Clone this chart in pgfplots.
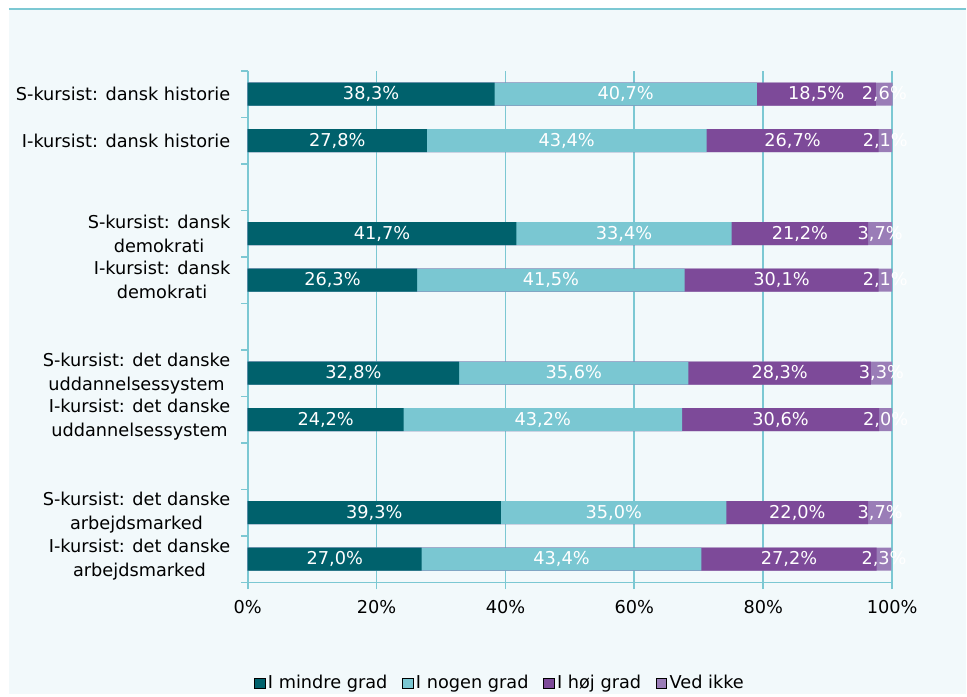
\documentclass[border=0pt]{standalone}
\usepackage{pgfplots}
\pgfplotsset{compat=1.18}
\usepackage{pgfplotstable}
\usepackage{fontspec}
\setmainfont{DejaVu Sans}
\usetikzlibrary{backgrounds}
\definecolor{cA}{HTML}{00616C}
\definecolor{cB}{HTML}{7AC7D2}
\definecolor{cC}{HTML}{7D4A99}
\definecolor{cD}{HTML}{9A7DB7}
\definecolor{gridc}{HTML}{7CC8D3}
\definecolor{bgc}{HTML}{F2F9FB}
\pgfplotstableread{
pos a b c d
10 38.3 40.7 18.5 2.6
9 27.8 43.4 26.7 2.1
7 41.7 33.4 21.2 3.7
6 26.3 41.5 30.1 2.1
4 32.8 35.6 28.3 3.3
3 24.2 43.2 30.6 2.0
1 39.3 35.0 22.0 3.7
0 27.0 43.4 27.2 2.3
}\data
\begin{document}
\fontsize{13.3pt}{18pt}\selectfont
\begin{tikzpicture}
\begin{axis}[name=ax, scale only axis, width=483.75pt, height=384pt,
  xmin=0, xmax=100, ymin=-0.5, ymax=10.5, clip=false,
  /pgf/number format/assume math mode=true,
  separate axis lines, axis x line*=bottom, axis y line*=left,
  axis line style={gridc, line width=1.3pt},
  tick style={gridc, line width=1.3pt},
  tick align=outside, major tick length=5pt,
  xtick={0,20,...,100}, xticklabel={\pgfmathprintnumber{\tick}\%},
  xticklabel style={yshift=-3.5pt},
  xmajorgrids, grid style={gridc, line width=1.3pt},
  ytick={-0.5,0.5,...,10.5}, yticklabels={},
  extra y ticks={10,9,7,6,4,3,1,0},
  extra y tick labels={{S-kursist: dansk historie},{I-kursist: dansk historie},{S-kursist: dansk\\demokrati},{I-kursist: dansk\\demokrati},{S-kursist: det danske\\uddannelsessystem},{I-kursist: det danske\\uddannelsessystem},{S-kursist: det danske\\arbejdsmarked},{I-kursist: det danske\\arbejdsmarked}},
  extra y tick style={major tick length=0pt, yticklabel style={align=center, xshift=-8.5pt}},
  legend columns=4,
  legend style={at={(0.392,-0.197)}, anchor=center, draw=none, fill=none,
    /tikz/every even column/.append style={column sep=9pt},
    nodes={inner sep=2pt}},
  legend image code/.code={\fill[#1] (0pt,-4pt) rectangle (8pt,4pt);},
  lbl/.style={draw=none, forget plot, point meta=explicit,
    nodes near coords={\pgfmathprintnumber[fixed,fixed zerofill,precision=1,use comma]{\pgfplotspointmeta}\%},
    every node near coord/.append style={anchor=center, text=white}},
  bars/.style={xbar, bar width=17.25pt, bar shift=0pt, draw=none, forget plot},
]
\addlegendimage{fill=cA}\addlegendentry{I mindre grad}
\addlegendimage{fill=cB}\addlegendentry{I nogen grad}
\addlegendimage{fill=cC}\addlegendentry{I høj grad}
\addlegendimage{fill=cD}\addlegendentry{Ved ikke}
\addplot[bars, fill=cD] table[x expr=\thisrow{a}+\thisrow{b}+\thisrow{c}+\thisrow{d}, y=pos]{\data};
\addplot[bars, fill=cC] table[x expr=\thisrow{a}+\thisrow{b}+\thisrow{c}, y=pos]{\data};
\addplot[bars, fill=cB] table[x expr=\thisrow{a}+\thisrow{b}, y=pos]{\data};
\addplot[bars, fill=cA] table[x=a, y=pos]{\data};
\addplot[lbl] table[x expr=\thisrow{a}/2, y=pos, meta=a]{\data};
\addplot[lbl] table[x expr=\thisrow{a}+\thisrow{b}/2, y=pos, meta=b]{\data};
\addplot[lbl] table[x expr=\thisrow{a}+\thisrow{b}+\thisrow{c}/2, y=pos, meta=c]{\data};
\addplot[lbl] table[x expr=\thisrow{a}+\thisrow{b}+\thisrow{c}+\thisrow{d}/2, y=pos, meta=d]{\data};
\end{axis}
\begin{scope}[on background layer, shift={(ax.south west)}]
\fill[white] (-186pt,-84pt) rectangle (539.25pt,437.25pt);
\fill[bgc] (-179.25pt,-84pt) rectangle (539.25pt,430.5pt);
\draw[gridc, line width=1.5pt] (-179.25pt,430.5pt) -- (539.25pt,430.5pt);
\end{scope}
\end{tikzpicture}
\end{document}
